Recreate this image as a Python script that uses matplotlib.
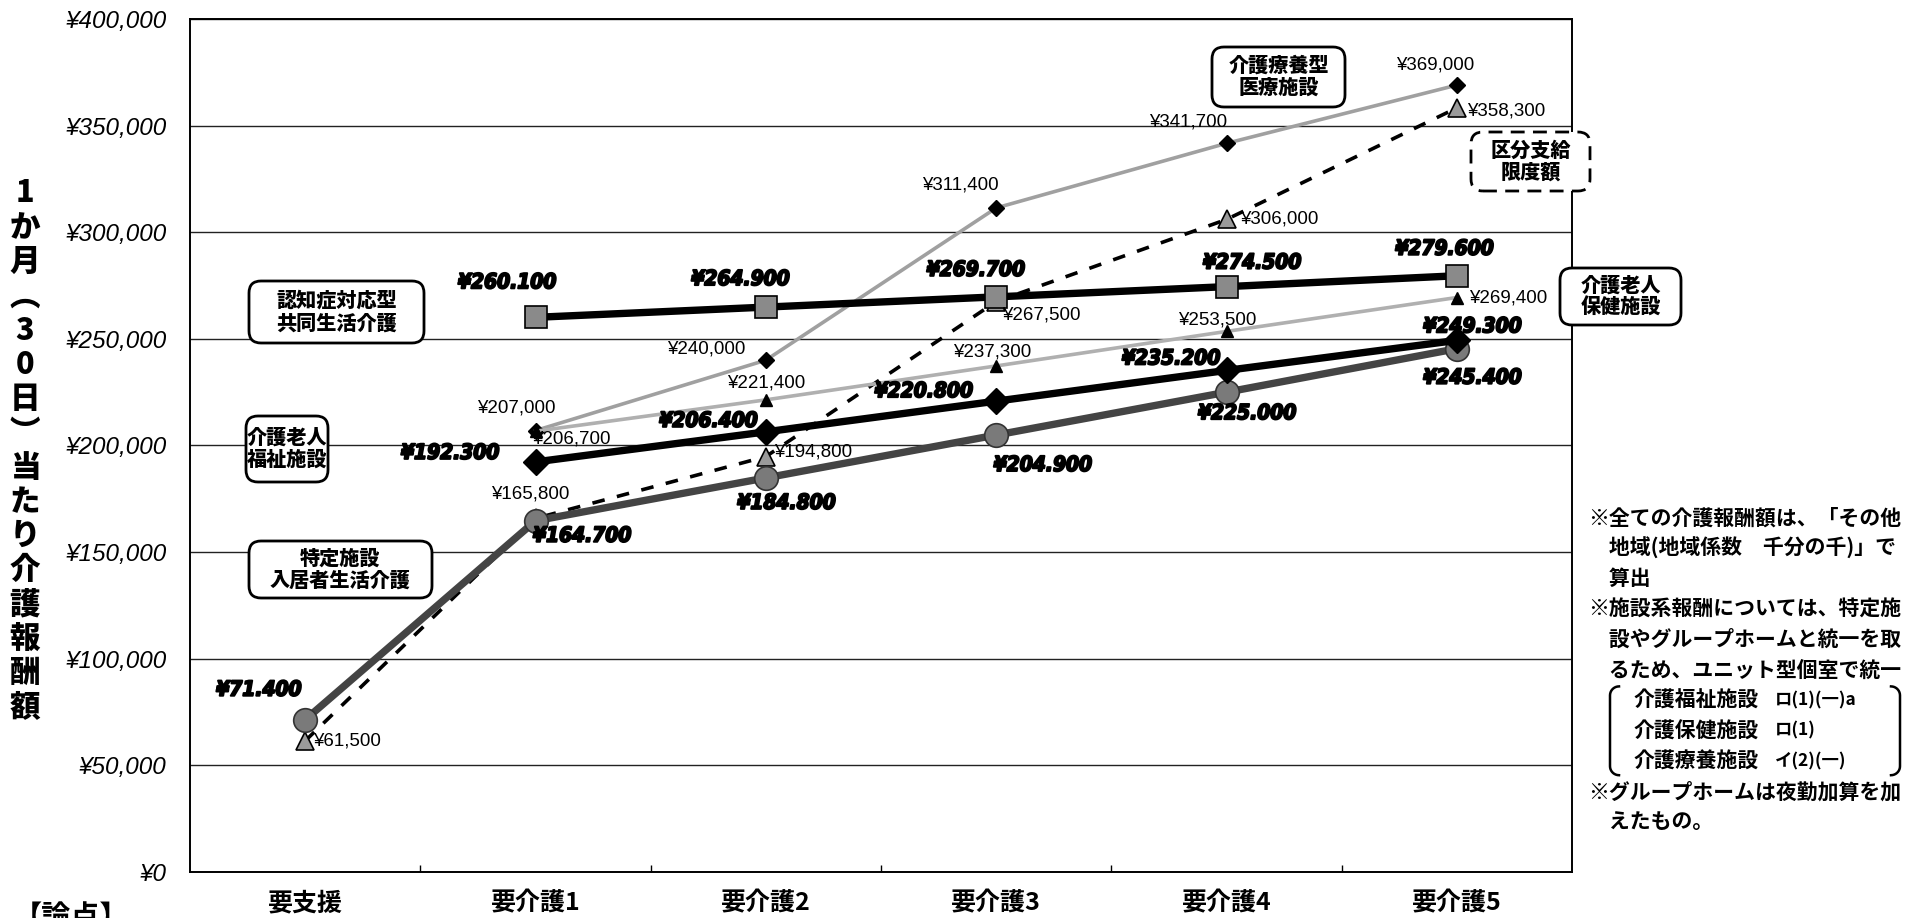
import numpy as np
import matplotlib
matplotlib.use("Agg")
import matplotlib.pyplot as plt
import matplotlib.patheffects as pe
from matplotlib import font_manager as fm
from matplotlib.patches import FancyBboxPatch
from matplotlib.lines import Line2D
from matplotlib.transforms import IdentityTransform

# ---------------- data ----------------
categories = ["要支援", "要介護1", "要介護2", "要介護3", "要介護4", "要介護5"]
nan = np.nan
group_home = [nan, 260100, 264900, 269700, 274500, 279600]   # 認知症対応型共同生活介護
welfare = [nan, 192300, 206400, 220800, 235200, 249300]      # 介護老人福祉施設
specified = [71400, 164700, 184800, 204900, 225000, 245400]  # 特定施設入居者生活介護
ryoyo = [nan, 207000, 240000, 311400, 341700, 369000]        # 介護療養型医療施設
hoken = [nan, 206700, 221400, 237300, 253500, 269400]        # 介護老人保健施設
limit = [61500, 165800, 194800, 267500, 306000, 358300]      # 区分支給限度額
y_ticks = [0, 50000, 100000, 150000, 200000, 250000, 300000, 350000, 400000]

ylabel_text = "1か月︵30日︶当たり介護報酬額"
notes = [
    "※全ての介護報酬額は、「その他",
    "　地域(地域係数　千分の千)」で",
    "　算出",
    "※施設系報酬については、特定施",
    "　設やグループホームと統一を取",
    "　るため、ユニット型個室で統一",
]
notes_names = ["介護福祉施設", "介護保健施設", "介護療養施設"]
notes_codes = ["ロ(1)(一)a", "ロ(1)", "イ(2)(一)"]
notes_tail = ["※グループホームは夜勤加算を加", "　えたもの。"]

# ---------------- fonts ----------------
names = {f.name for f in fm.fontManager.ttflist}
if "Liberation Sans Narrow" in names:
    BOLD_FAM, BOLD_SIZE, BOLD_STRETCH = "Liberation Sans Narrow", 19, "normal"
else:
    BOLD_FAM, BOLD_SIZE, BOLD_STRETCH = "DejaVu Sans", 15, "condensed"
CJK = ["Noto Sans CJK JP", "DejaVu Sans"]
SANS = "Liberation Sans"

W, H = 1920, 918
fig = plt.figure(figsize=(W / 100, H / 100), dpi=100)
L, R, T, B = 190, 1572, 19, 872
ax = fig.add_axes([L / W, (H - B) / H, (R - L) / W, (B - T) / H])
ax.set_xlim(-0.5, 5.5)
ax.set_ylim(0, 400000)

x = np.arange(len(categories))

# grid / ticks
ax.set_yticks(y_ticks)
ax.set_yticklabels([f"¥{v:,}" for v in y_ticks], fontfamily=SANS, fontstyle="italic", fontsize=17.5)
ax.yaxis.grid(True, color="#222222", lw=1.0)
ax.set_axisbelow(True)
ax.tick_params(axis="y", length=0, pad=17)
ax.set_xticks(x)
ax.set_xticklabels(categories, fontfamily=CJK, fontweight="bold", fontsize=18)
ax.tick_params(axis="x", length=0, pad=14)
ax.set_xticks(x[:-1] + 0.5, minor=True)
ax.tick_params(axis="x", which="minor", direction="in", length=5, width=1, color="black")
for s in ax.spines.values():
    s.set_color("black")
    s.set_linewidth(1.4)

# ---------------- series ----------------
ax.plot(x, limit, color="black", lw=2.6, ls=(0, (3.5, 3.5)), marker="^", ms=13,
        mfc="#9a9a9a", mec="black", mew=1.2, zorder=3)
ax.plot(x, ryoyo, color="#a0a0a0", lw=2.6, marker="D", ms=8, mfc="black", mec="black", zorder=4)
ax.plot(x, hoken, color="#b0b0b0", lw=2.6, marker="^", ms=9, mfc="black", mec="black", zorder=4)
ax.plot(x, specified, color="#444444", lw=5.3, marker="o", ms=17, mfc="#7a7a7a", mec="#333333",
        mew=1.2, zorder=5)
ax.plot(x, welfare, color="black", lw=5.3, marker="D", ms=13, mfc="black", mec="black", zorder=6)
ax.plot(x, group_home, color="black", lw=5.3, marker="s", ms=16, mfc="#8a8a8a", mec="black",
        mew=1.2, zorder=6)

heavy = [pe.withStroke(linewidth=1.4, foreground="black")]


def bold_label(vals, offs):
    for i, (v, (dx, dy)) in enumerate(zip(vals, offs)):
        if np.isnan(v):
            continue
        ax.annotate(f"¥{int(v):,}".replace(",", "."), (x[i], v), xytext=(dx, dy),
                    textcoords="offset pixels", ha="center", va="center",
                    fontfamily=BOLD_FAM, fontsize=BOLD_SIZE, fontweight="bold",
                    fontstyle="italic", fontstretch=BOLD_STRETCH, zorder=10,
                    path_effects=heavy)


def thin_label(vals, offs, ha="center"):
    for i, (v, (dx, dy)) in enumerate(zip(vals, offs)):
        if np.isnan(v):
            continue
        h = ha[i] if isinstance(ha, list) else ha
        ax.annotate(f"¥{int(v):,}", (x[i], v), xytext=(dx, dy), textcoords="offset pixels",
                    ha=h, va="center", fontfamily=SANS, fontsize=13.5, zorder=10)


bold_label(group_home, [(0, 0), (-28, 35), (-25, 28), (-20, 27), (26, 24), (-12, 27)])
bold_label(welfare, [(0, 0), (-85, 9), (-57, 11), (-72, 10), (-55, 12), (16, 14)])
bold_label(specified, [(-46, 30), (47, -15), (21, -25), (47, -30), (21, -21), (16, -29)])

thin_label(ryoyo, [(0, 0), (-19, 23), (-60, 11), (-36, 23), (-38, 21), (-22, 20)])
thin_label(hoken, [(0, 0), (-3, -8), (0, 17), (-4, 14), (-9, 11), (12, 0)],
           ha=["center", "left", "center", "center", "center", "left"])
thin_label(limit, [(8, 0), (-5, 24), (8, 5), (6, -13), (14, 0), (10, -3)],
           ha=["left", "center", "left", "left", "left", "left"])

# ---------------- legend boxes ----------------
def box(x0, y0, x1, y1, text, dashed=False, size=14.5):
    p = FancyBboxPatch((x0, H - y1), x1 - x0, y1 - y0,
                       boxstyle="round,pad=0,rounding_size=12",
                       transform=IdentityTransform(), fc="white", ec="black", lw=2,
                       ls=(0, (5, 3)) if dashed else "-", zorder=20)
    fig.add_artist(p)
    fig.text((x0 + x1) / 2 / W, 1 - (y0 + y1) / 2 / H, text, ha="center", va="center",
             fontfamily=CJK, fontweight=900, fontsize=size, linespacing=1.15, zorder=21)


box(1212, 47, 1345, 107, "介護療養型\n医療施設")
box(1471, 132, 1590, 191, "区分支給\n限度額", dashed=True)
box(1560, 268, 1681, 325, "介護老人\n保健施設")
box(249, 281, 424, 343, "認知症対応型\n共同生活介護")
box(246, 416, 328, 482, "介護老人\n福祉施設")
box(249, 541, 432, 598, "特定施設\n入居者生活介護")

# ---------------- y label (vertical) ----------------
ys = np.linspace(193, 707, len(ylabel_text))
for ch, yy in zip(ylabel_text, ys):
    fig.text(25 / W, 1 - yy / H, ch, ha="center", va="center", fontfamily=CJK,
             fontweight=900, fontsize=22)

# ---------------- notes ----------------
y0n, step = 518, 30.4
lines_y = [y0n + i * step for i in range(11)]
NS = 15
for i, t in enumerate(notes):
    fig.text(1588 / W, 1 - lines_y[i] / H, t, ha="left", va="center", fontfamily=CJK,
             fontweight="bold", fontsize=NS)
for j, (n, c) in enumerate(zip(notes_names, notes_codes)):
    yy = lines_y[6 + j]
    fig.text(1633 / W, 1 - yy / H, n, ha="left", va="center", fontfamily=CJK,
             fontweight="bold", fontsize=NS)
    fig.text(1775 / W, 1 - yy / H, c, ha="left", va="center", fontfamily=CJK,
             fontweight="bold", fontsize=12.5)
for j, t in enumerate(notes_tail):
    fig.text(1588 / W, 1 - lines_y[9 + j] / H, t, ha="left", va="center", fontfamily=CJK,
             fontweight="bold", fontsize=NS)

# brackets
top, bot = lines_y[6] - 14, lines_y[8] + 14
r = 9
th = np.linspace(0, np.pi / 2, 10)


def bracket(xe, sign):
    arc1x = xe + sign * r * (1 - np.sin(th))
    arc1y = (H - top) - r * (1 - np.cos(th))
    arc2x = xe + sign * r * (1 - np.cos(th))
    arc2y = (H - bot) + r * (1 - np.sin(th))
    xs = np.concatenate([arc1x, arc2x])
    yy = np.concatenate([arc1y, arc2y])
    fig.add_artist(Line2D(xs, yy, transform=IdentityTransform(), color="black", lw=1.8))


bracket(1610, +1)
bracket(1900, -1)

# bottom-left cut-off heading
fig.text(13 / W, 1 - 902 / H, "【論点】", ha="left", va="top", fontfamily=CJK,
         fontweight="bold", fontsize=21)

fig.savefig("out.png", dpi=100)
